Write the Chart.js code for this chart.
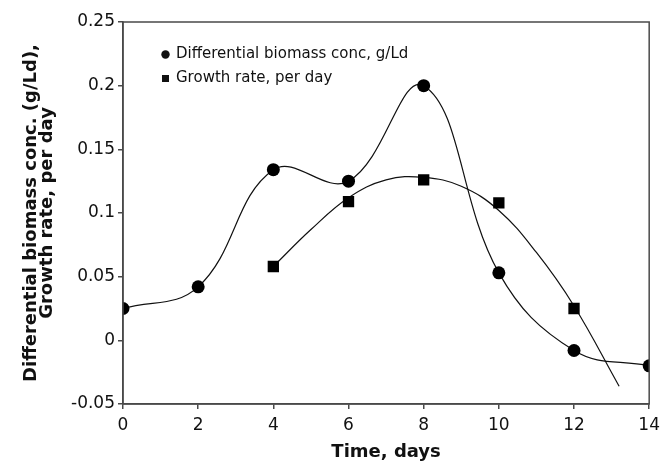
<!DOCTYPE html>
<html>
<head>
<meta charset="utf-8">
<script src="https://cdn.jsdelivr.net/npm/chart.js@4/dist/chart.umd.min.js"></script>
<style>
  html, body { margin: 0; padding: 0; background: #ffffff; }
  canvas { display: block; }
</style>
</head>
<body>
<canvas id="chart" width="666" height="464"></canvas>
<script>
// Sampling days and measured values
const days = [0, 2, 4, 6, 8, 10, 12, 14];
const biomass = [0.025, 0.042, 0.134, 0.125, 0.200, 0.053, -0.008, -0.020];

const growthDays = [4, 6, 8, 10, 12];
const growthRate = [0.058, 0.109, 0.126, 0.108, 0.025];

// Fitted trend through the growth-rate measurements
const trendDays = [4, 5, 6, 7, 8, 9, 10, 11, 12, 13.2];
const trendRate = [0.058, 0.087, 0.112, 0.126, 0.128, 0.121, 0.102, 0.069, 0.027, -0.036];

// Axis ticks
const xTicks = [0, 2, 4, 6, 8, 10, 12, 14];
const yTicks = [-0.05, 0, 0.05, 0.1, 0.15, 0.2, 0.25];

const labelBiomass = 'Differential biomass conc, g/Ld';
const labelGrowth = 'Growth rate, per day';

const INK = '#111111';
const AXIS = '#4a4a4a';
const toPoints = (xs, ys) => xs.map((x, i) => ({ x: x, y: ys[i] }));

// Frame around the plotting area (top and right sides included)
const frame = {
  id: 'frame',
  afterDraw(chart) {
    const { ctx, chartArea: a } = chart;
    ctx.save();
    ctx.strokeStyle = AXIS;
    ctx.lineWidth = 1.5;
    ctx.strokeRect(a.left, a.top, a.right - a.left, a.bottom - a.top);
    ctx.restore();
  }
};

// Legend drawn inside the top-left corner of the plot
const insetLegend = {
  id: 'insetLegend',
  afterDraw(chart) {
    const { ctx, chartArea: a } = chart;
    const x0 = a.left + 42.5;
    const y0 = a.top + 32.5;
    const gap = 24;
    ctx.save();
    ctx.font = '15px "DejaVu Sans", sans-serif';
    ctx.textBaseline = 'middle';
    ctx.textAlign = 'left';
    ctx.fillStyle = INK;
    chart.data.datasets.forEach((ds) => {
      if (!ds.label) return;
      const y = y0 + ds.legendIndex * gap;
      ctx.beginPath();
      if (ds.pointStyle === 'rect') {
        ctx.rect(x0 - 3.5, y - 3.5, 7, 7);
      } else {
        ctx.arc(x0, y, 4.2, 0, Math.PI * 2);
      }
      ctx.fill();
      ctx.fillText(ds.label, x0 + 10.5, y);
    });
    ctx.restore();
  }
};

new Chart(document.getElementById('chart'), {
  type: 'line',
  data: {
    datasets: [
      {
        label: labelBiomass,
        legendIndex: 0,
        data: toPoints(days, biomass),
        borderColor: INK,
        borderWidth: 1.2,
        tension: 0.4,
        pointStyle: 'circle',
        pointRadius: 6.5,
        pointBackgroundColor: '#000',
        pointBorderWidth: 0,
        fill: false
      },
      {
        label: labelGrowth,
        legendIndex: 1,
        data: toPoints(growthDays, growthRate),
        showLine: false,
        pointStyle: 'rect',
        pointRadius: 8,
        pointBackgroundColor: '#000',
        pointBorderWidth: 0
      },
      {
        label: '',
        data: toPoints(trendDays, trendRate),
        borderColor: INK,
        borderWidth: 1.2,
        tension: 0.4,
        pointRadius: 0,
        fill: false
      }
    ]
  },
  options: {
    responsive: false,
    animation: false,
    devicePixelRatio: 1,
    layout: { padding: { top: 22, right: 12, left: 0, bottom: 0 } },
    plugins: {
      legend: { display: false },
      tooltip: { enabled: false }
    },
    scales: {
      x: {
        type: 'linear',
        min: 0,
        max: 14,
        afterBuildTicks: (s) => { s.ticks = xTicks.map(v => ({ value: v })); },
        afterFit: (s) => { s.height = 60; },
        grid: { drawOnChartArea: false, drawTicks: true, tickLength: 5, color: AXIS, lineWidth: 1.5 },
        border: { display: true, color: AXIS, width: 1.5 },
        ticks: {
          color: INK,
          padding: 6,
          font: { family: '"DejaVu Sans", sans-serif', size: 17 },
          callback: (v) => String(v)
        },
        title: {
          display: true,
          text: 'Time, days',
          color: INK,
          padding: { top: 0, bottom: 1 },
          font: { family: '"DejaVu Sans", sans-serif', size: 18, weight: 'bold' }
        }
      },
      y: {
        min: -0.05,
        max: 0.25,
        afterBuildTicks: (s) => { s.ticks = yTicks.map(v => ({ value: v })); },
        afterFit: (s) => { s.width = 123; },
        grid: { drawOnChartArea: false, drawTicks: true, tickLength: 5, color: AXIS, lineWidth: 1.5 },
        border: { display: true, color: AXIS, width: 1.5 },
        ticks: {
          color: INK,
          padding: 3,
          font: { family: '"DejaVu Sans", sans-serif', size: 17 },
          callback: (v) => String(Math.round(v * 100) / 100)
        },
        title: {
          display: true,
          text: ['Differential biomass conc. (g/Ld),', 'Growth rate, per day'],
          color: INK,
          padding: { top: 24, bottom: 0 },
          font: { family: '"DejaVu Sans", sans-serif', size: 18, weight: 'bold', lineHeight: 0.85 }
        }
      }
    }
  },
  plugins: [frame, insetLegend]
});
</script>
</body>
</html>
